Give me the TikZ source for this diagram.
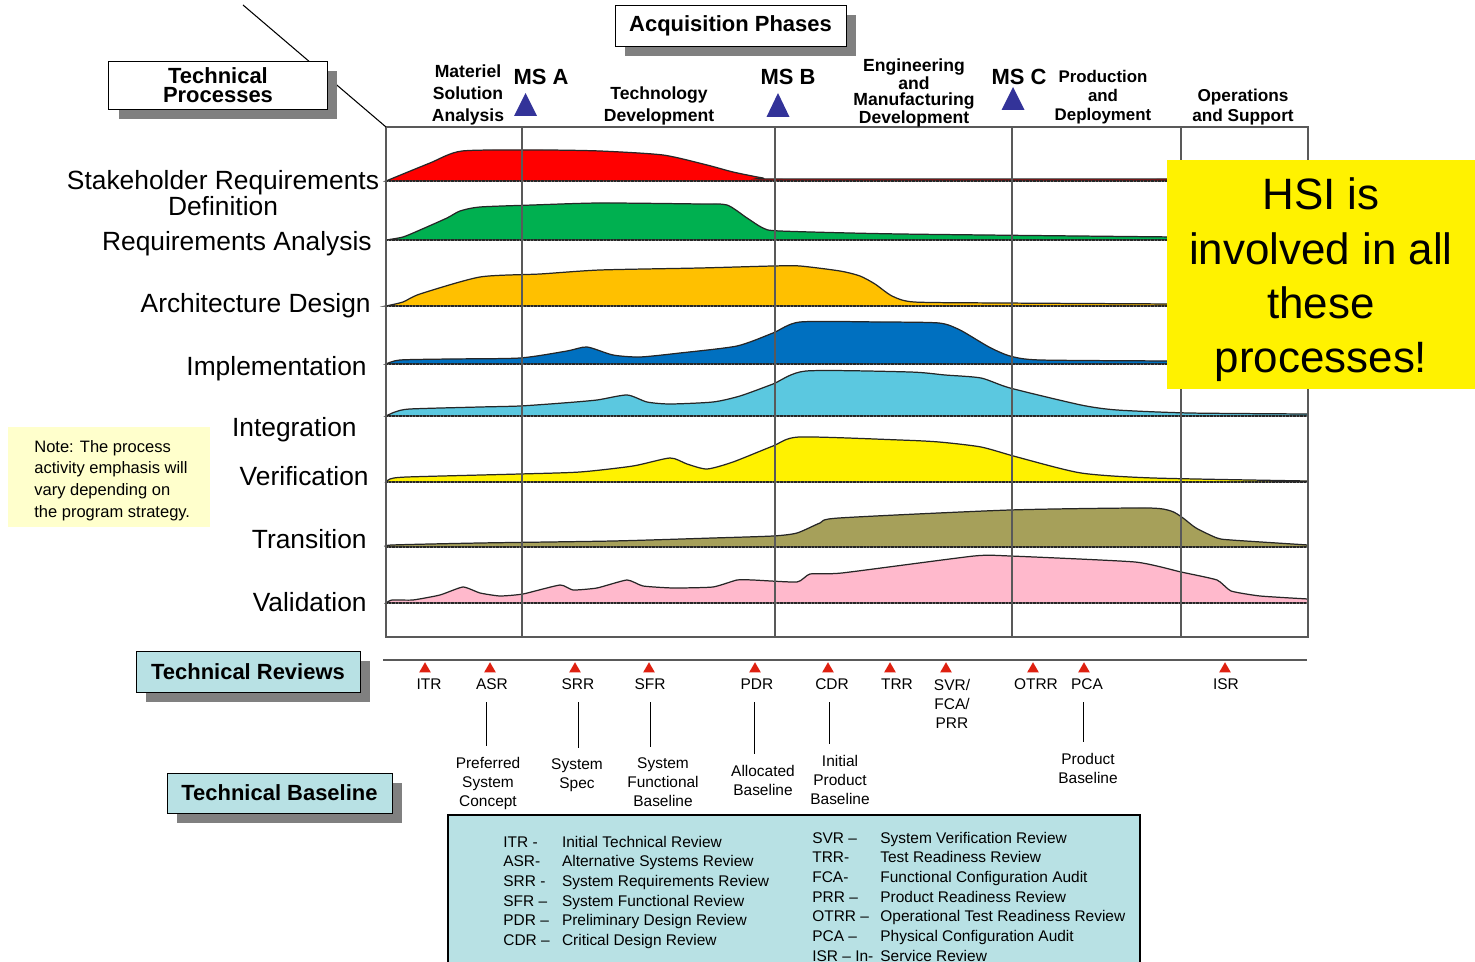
\documentclass[tikz,border=0pt]{standalone}
\usepackage{fontspec}
\setmainfont{Liberation Sans}
\usepackage{xcolor}
\usepackage{tikz}
\usetikzlibrary{positioning,shapes,shadows}
\definecolor{shadowgray}{RGB}{128,128,128}
\definecolor{tealbox}{RGB}{184,225,228}
\definecolor{noteyellow}{RGB}{255,255,204}
\definecolor{msblue}{RGB}{51,51,153}
\definecolor{revred}{RGB}{222,32,16}
\definecolor{sgreen}{RGB}{0,176,80}
\definecolor{sorange}{RGB}{255,192,0}
\definecolor{sblue}{RGB}{0,112,192}
\definecolor{scyan}{RGB}{91,200,224}
\definecolor{solive}{RGB}{166,160,90}
\definecolor{spink}{RGB}{255,185,204}
\tikzset{
  titlebox/.style={draw=black, fill=white, align=center, inner sep=0pt,
    font=\bfseries\fontsize{12.5}{11}\selectfont,
    drop shadow={shadow xshift=0.2cm, shadow yshift=-0.2cm, fill=shadowgray, opacity=1}},
  phase/.style={align=center, inner sep=0pt},
  mslab/.style={inner sep=0pt, font=\bfseries\fontsize{12.5}{14}\selectfont},
  rowlab/.style={inner sep=0pt, anchor=east, text height=0.92em, text depth=0.2em,
    font=\fontsize{15}{14.7}\selectfont},
  grid/.style={draw=black!65, line width=0.6pt},
  curve/.style={draw=black!85, line width=0.7pt},
  baseln/.style={draw=black!85, line width=1.2pt, dash pattern=on 0.45pt off 0.35pt},
  revtri/.style={regular polygon, regular polygon sides=3, fill=revred, inner sep=0pt, minimum size=0.27cm},
  revlab/.style={inner sep=0pt, anchor=north, align=center, font=\fontsize{8.8}{11}\selectfont},
  baselab/.style={inner sep=0pt, anchor=north, align=center, font=\fontsize{8.8}{10.8}\selectfont},
  stem/.style={draw=black, line width=0.5pt, shorten <=7pt, shorten >=6pt},
  legtext/.style={inner sep=0pt, anchor=north west, font=\fontsize{8.8}{11.2}\selectfont}
}
\begin{document}
\begin{tikzpicture}[x=0.02cm, y=-0.02cm]
	\useasboundingbox (0,0) rectangle (1475,962);

	% activity curves
	\filldraw[fill=red, curve] plot[smooth, tension=0.4] coordinates {(386,181) (430,163) (462,151) (540,150) (600,151) (663,155) (707,165) (733,172) (763,178) (780,179) (1175,179)} |- (386,181) -- cycle;
	\filldraw[fill=sgreen, curve] plot[smooth, tension=0.4] coordinates {(386,240) (403,237) (420,230) (447,218) (460,211) (480,207) (533,205) (600,203) (700,204) (727,205) (747,218) (763,228) (780,231) (900,234) (1175,237)} |- (386,240) -- cycle;
	\filldraw[fill=sorange, curve] plot[smooth, tension=0.4] coordinates {(386,306) (403,302) (420,294) (480,277) (540,274) (600,270) (700,268) (773,266) (800,266) (840,271) (860,276) (875,284) (892,296) (914,302) (1000,303) (1175,304)} |- (386,306) -- cycle;
	\filldraw[fill=sblue, curve] plot[smooth, tension=0.4] coordinates {(386,364) (400,360) (450,359) (520,358) (567,351) (587,347) (613,355) (640,357) (680,353) (737,346) (773,333) (800,322) (880,322) (939,323) (960,330) (989,347) (1010,356) (1040,360) (1175,361)} |- (386,364) -- cycle;
	\filldraw[fill=scyan, curve] plot[smooth, tension=0.4] coordinates {(386,416) (395,412) (410,409) (480,407) (520,406) (563,403) (597,400) (627,395) (647,402) (670,404) (713,402) (740,396) (773,384) (806,371) (910,372) (945,375) (981,378) (1010,388) (1081,405) (1117,410) (1189,413) (1308,414)} |- (386,416) -- cycle;
	\filldraw[fill=yellow, curve] plot[smooth, tension=0.4] coordinates {(386,482) (390,479) (407,477) (520,474) (580,472) (633,466) (670,458) (687,464) (707,469) (733,462) (773,446) (799,437) (900,440) (939,442) (981,447) (1017,457) (1081,473) (1153,478) (1308,481)} |- (386,482) -- cycle;
	\filldraw[fill=solive, curve] plot[smooth, tension=0.4] coordinates {(386,547) (392,545) (480,543) (613,541) (713,538) (773,536) (797,533) (820,523) (839,518) (1010,510) (1146,508) (1171,511) (1183,518) (1196,528) (1217,538) (1231,540) (1308,545)} |- (386,547) -- cycle;
	\filldraw[fill=spink, curve] plot[smooth, tension=0.3] coordinates {(386,603) (392,600) (413,600) (440,595) (463,587) (480,593) (500,596) (523,594) (560,585) (573,590) (597,588) (627,580) (643,586) (673,588) (713,587) (737,580) (753,580) (797,582) (810,574) (842,573) (974,556) (1010,556) (1135,562) (1181,572) (1217,580) (1231,591) (1260,596) (1308,599)} |- (386,603) -- cycle;

	\foreach \y in {181,240,306,364}
		\draw[baseln] (386,\y) -- (1167,\y);
	\foreach \y in {416,482,547,603}
		\draw[baseln] (386,\y) -- (1308,\y);

	% frame and phase lines
	\draw[grid] (386,127) rectangle (1308,637);
	\foreach \x in {522,775,1012,1181}
		\draw[grid] (\x,127) -- (\x,637);
	\draw[grid] (383,660) -- (1307,660);

	% callout
	\draw[black, line width=0.6pt] (243,5) -- (386,127);
	\node[titlebox, minimum width=4.38cm, minimum height=0.96cm] (techproc) at (218,85) {Technical\\Processes};
	\node[titlebox, minimum width=4.62cm, minimum height=0.82cm] (acqphases) at (730.5,25.5) {Acquisition Phases};

	% phases and milestones
	\node[phase, font=\bfseries\fontsize{10}{12.5}\selectfont] (matsol) at (468,95) {Materiel\\Solution\\Analysis};
	\node[phase, font=\bfseries\fontsize{10}{12}\selectfont] (techdev) at (659,106) {Technology\\Development};
	\node[phase, font=\bfseries\fontsize{10}{9.3}\selectfont] (emd) at (914,93) {Engineering\\and\\Manufacturing\\Development};
	\node[phase, font=\bfseries\fontsize{9.6}{11}\selectfont] (prodep) at (1103,97) {Production\\and\\Deployment};
	\node[phase, font=\bfseries\fontsize{9.8}{11.3}\selectfont] (opsup) at (1243,107) {Operations\\and Support};
	\node[mslab] (msa) at (541,77) {MS A};
	\node[mslab] (msb) at (788,77) {MS B};
	\node[mslab] (msc) at (1019,77) {MS C};
	\foreach \x/\t/\b in {525.5/93/116, 778/93/117, 1013/87/110}
		\fill[msblue] (\x-11.5,\b) -- (\x+11.5,\b) -- (\x,\t) -- cycle;

	% process rows
	\node[inner sep=0pt, align=center, font=\fontsize{15}{14.7}\selectfont] (stakeholder) at (223,193) {Stakeholder Requirements\\Definition};
	\node[rowlab] (reqanalysis) at (372,244) {Requirements Analysis};
	\node[rowlab] (archdesign) at (371,306) {Architecture Design};
	\node[rowlab] (implement) at (367,369) {Implementation};
	\node[rowlab] (integration) at (357,430) {Integration};
	\node[rowlab] (verification) at (369,479) {Verification};
	\node[rowlab] (transition) at (367,542) {Transition};
	\node[rowlab] (validation) at (367,605) {Validation};

	\fill[yellow] (1167,160) rectangle (1475,389);
	\node[align=center, inner sep=0pt, font=\fontsize{25}{30.9}\selectfont] (hsi) at (1321,280) {HSI is\\involved in all\\these\\processes!};

	\fill[noteyellow] (8,427) rectangle (210,527);
	\node[inner sep=0pt, anchor=north west, align=left, font=\fontsize{9.4}{12.3}\selectfont] (note) at (34,440)
		{Note: The process\\activity emphasis will\\vary depending on\\the program strategy.};

	% technical reviews
	\node[titlebox, fill=tealbox, minimum width=4.48cm, minimum height=0.82cm] (techrev) at (248,671.5) {Technical Reviews};
	\foreach \x/\n in {425/itr, 490/asr, 575/srr, 649/sfr, 755/pdr, 828/cdr, 890/trr, 946/svr, 1033/otrr, 1084/pca, 1225/isr}
		\node[revtri] (tri\n) at (\x,669) {};
	\node[revlab] (itr) at (429,678.5) {ITR};
	\node[revlab] (asr) at (492,678.5) {ASR};
	\node[revlab] (srr) at (578,678.5) {SRR};
	\node[revlab] (sfr) at (650,678.5) {SFR};
	\node[revlab] (pdr) at (757,678.5) {PDR};
	\node[revlab] (cdr) at (832,678.5) {CDR};
	\node[revlab] (trr) at (897,678.5) {TRR};
	\node[revlab] (svr) at (952,678.5) {SVR/\\FCA/\\PRR};
	\node[revlab] (otrr) at (1036,678.5) {OTRR};
	\node[revlab] (pca) at (1087,678.5) {PCA};
	\node[revlab] (isr) at (1226,678.5) {ISR};

	% technical baselines
	\node[titlebox, fill=tealbox, minimum width=4.5cm, minimum height=0.8cm] (techbase) at (279.5,793) {Technical Baseline};
	\node[baselab] (prefcon) at (488,756.5) {Preferred\\System\\Concept};
	\node[baselab] (sysspec) at (577,758.5) {System\\Spec};
	\node[baselab] (funcbase) at (663,757.5) {System\\Functional\\Baseline};
	\node[baselab] (allocbase) at (763,764.5) {Allocated\\Baseline};
	\node[baselab] (initprod) at (840,754.5) {Initial\\Product\\Baseline};
	\node[baselab] (prodbase) at (1088,752.5) {Product\\Baseline};
	\draw[stem] ([xshift=-3pt]asr.south) -- ([xshift=-3pt]asr.south |- prefcon.north);
	\draw[stem] (srr.south) -- (srr.south |- sysspec.north);
	\draw[stem] (sfr.south) -- (sfr.south |- funcbase.north);
	\draw[stem] ([xshift=-1.5pt]pdr.south) -- ([xshift=-1.5pt]pdr.south |- allocbase.north);
	\draw[stem] ([xshift=-1.5pt]cdr.south) -- ([xshift=-1.5pt]cdr.south |- initprod.north);
	\draw[stem] ([xshift=-2pt]pca.south) -- ([xshift=-2pt]pca.south |- prodbase.north);

	% legend
	\draw[black, fill=tealbox, line width=0.6pt] (448,815) rectangle (1140,966);
	\node[legtext] (legleft) at (503,833) {\begin{tabular}{@{}l@{\hspace{7pt}}l@{}}
		ITR - & Initial Technical Review\\
		ASR- & Alternative Systems Review\\
		SRR - & System Requirements Review\\
		SFR – & System Functional Review\\
		PDR – & Preliminary Design Review\\
		CDR – & Critical Design Review
	\end{tabular}};
	\node[legtext] (legright) at (812,829) {\begin{tabular}{@{}l@{\hspace{4pt}}l@{}}
		SVR – & System Verification Review\\
		TRR- & Test Readiness Review\\
		FCA- & Functional Configuration Audit\\
		PRR – & Product Readiness Review\\
		OTRR – & Operational Test Readiness Review\\
		PCA – & Physical Configuration Audit\\
		ISR – In- & Service Review
	\end{tabular}};
\end{tikzpicture}
\end{document}
